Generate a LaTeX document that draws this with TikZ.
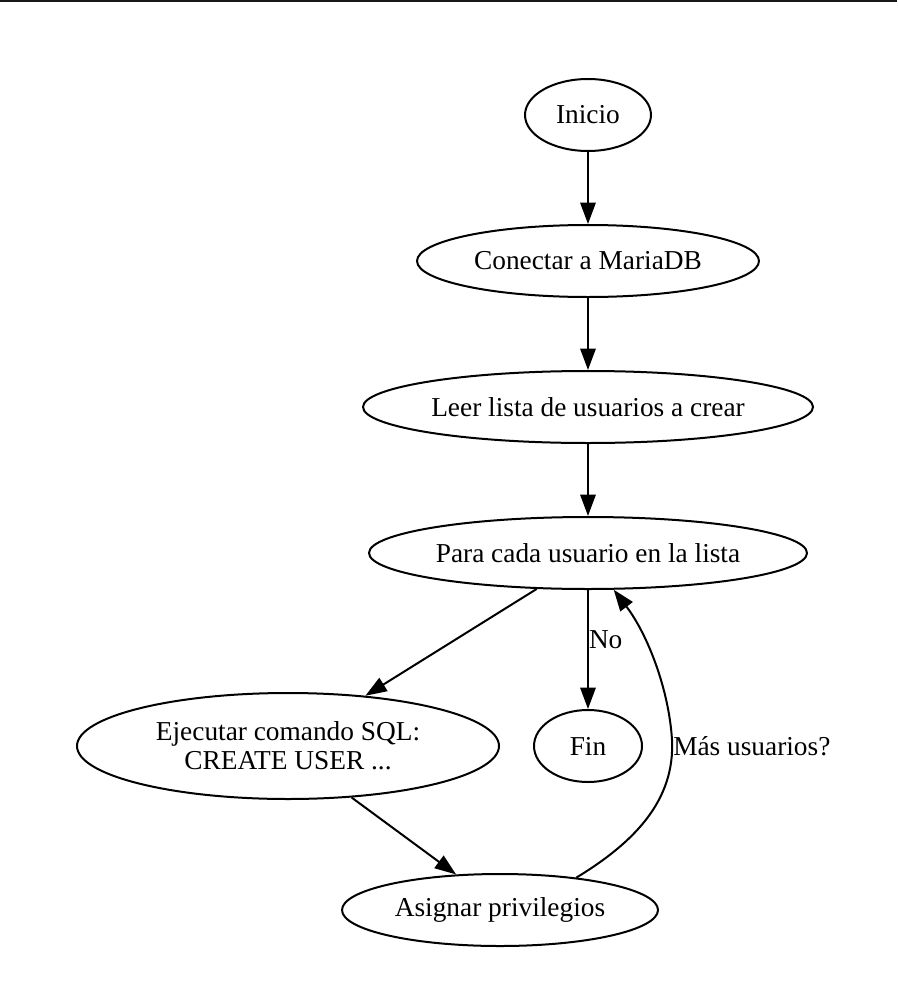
\documentclass[tikz,border=0pt]{standalone}
\usepackage{fontspec}
\setmainfont{Liberation Serif}
\usetikzlibrary{arrows.meta,shapes.geometric}
\begin{document}
\begin{tikzpicture}[x=0.75pt,y=-0.75pt,
  every node/.style={font=\fontsize{20.5}{22}\selectfont},
  oval/.style={ellipse,draw,line width=1.5pt,inner sep=0pt,align=center},
  conn/.style={line width=1.5pt,-{Triangle[length=16pt,width=11.5pt]}},
  lbl/.style={inner sep=0pt}]
\useasboundingbox (0,0) rectangle (897,1003);
\draw[line width=1.5pt,color=black!90] (0,1) -- (897,1);
\node[oval,minimum width=94.5pt,minimum height=54pt] (inicio) at (588,115) {Inicio};
\node[oval,minimum width=256.5pt,minimum height=54pt] (con) at (588,261) {Conectar a MariaDB};
\node[oval,minimum width=337.5pt,minimum height=54pt] (leer) at (588,407) {Leer lista de usuarios a crear};
\node[oval,minimum width=328.5pt,minimum height=54pt] (para) at (588,553) {Para cada usuario en la lista};
\node[oval,minimum width=316.5pt,minimum height=79.5pt] (ejec) at (288,746) {Ejecutar comando SQL:\\CREATE USER ...};
\node[oval,minimum width=81pt,minimum height=54pt] (fin) at (588,746) {Fin};
\node[oval,minimum width=237pt,minimum height=54pt] (asig) at (500,910) {Asignar privilegios};
\draw[conn] (inicio) -- (con);
\draw[conn] (con) -- (leer);
\draw[conn] (leer) -- (para);
\draw[conn] (para.-145) -- (ejec.33.5);
\draw[conn] (para.south) -- (fin.north) node[lbl,pos=0.42,right=0pt] {No};
\draw[conn] (ejec.-39) -- (asig.141);
\draw[conn] (asig.23.7) .. controls (635,842) and (675,800) .. (672,740)
  .. controls (669,690) and (648,635) .. (para.-55);
\node[lbl,anchor=west] (mas) at (673,746) {Más usuarios?};
\end{tikzpicture}
\end{document}
